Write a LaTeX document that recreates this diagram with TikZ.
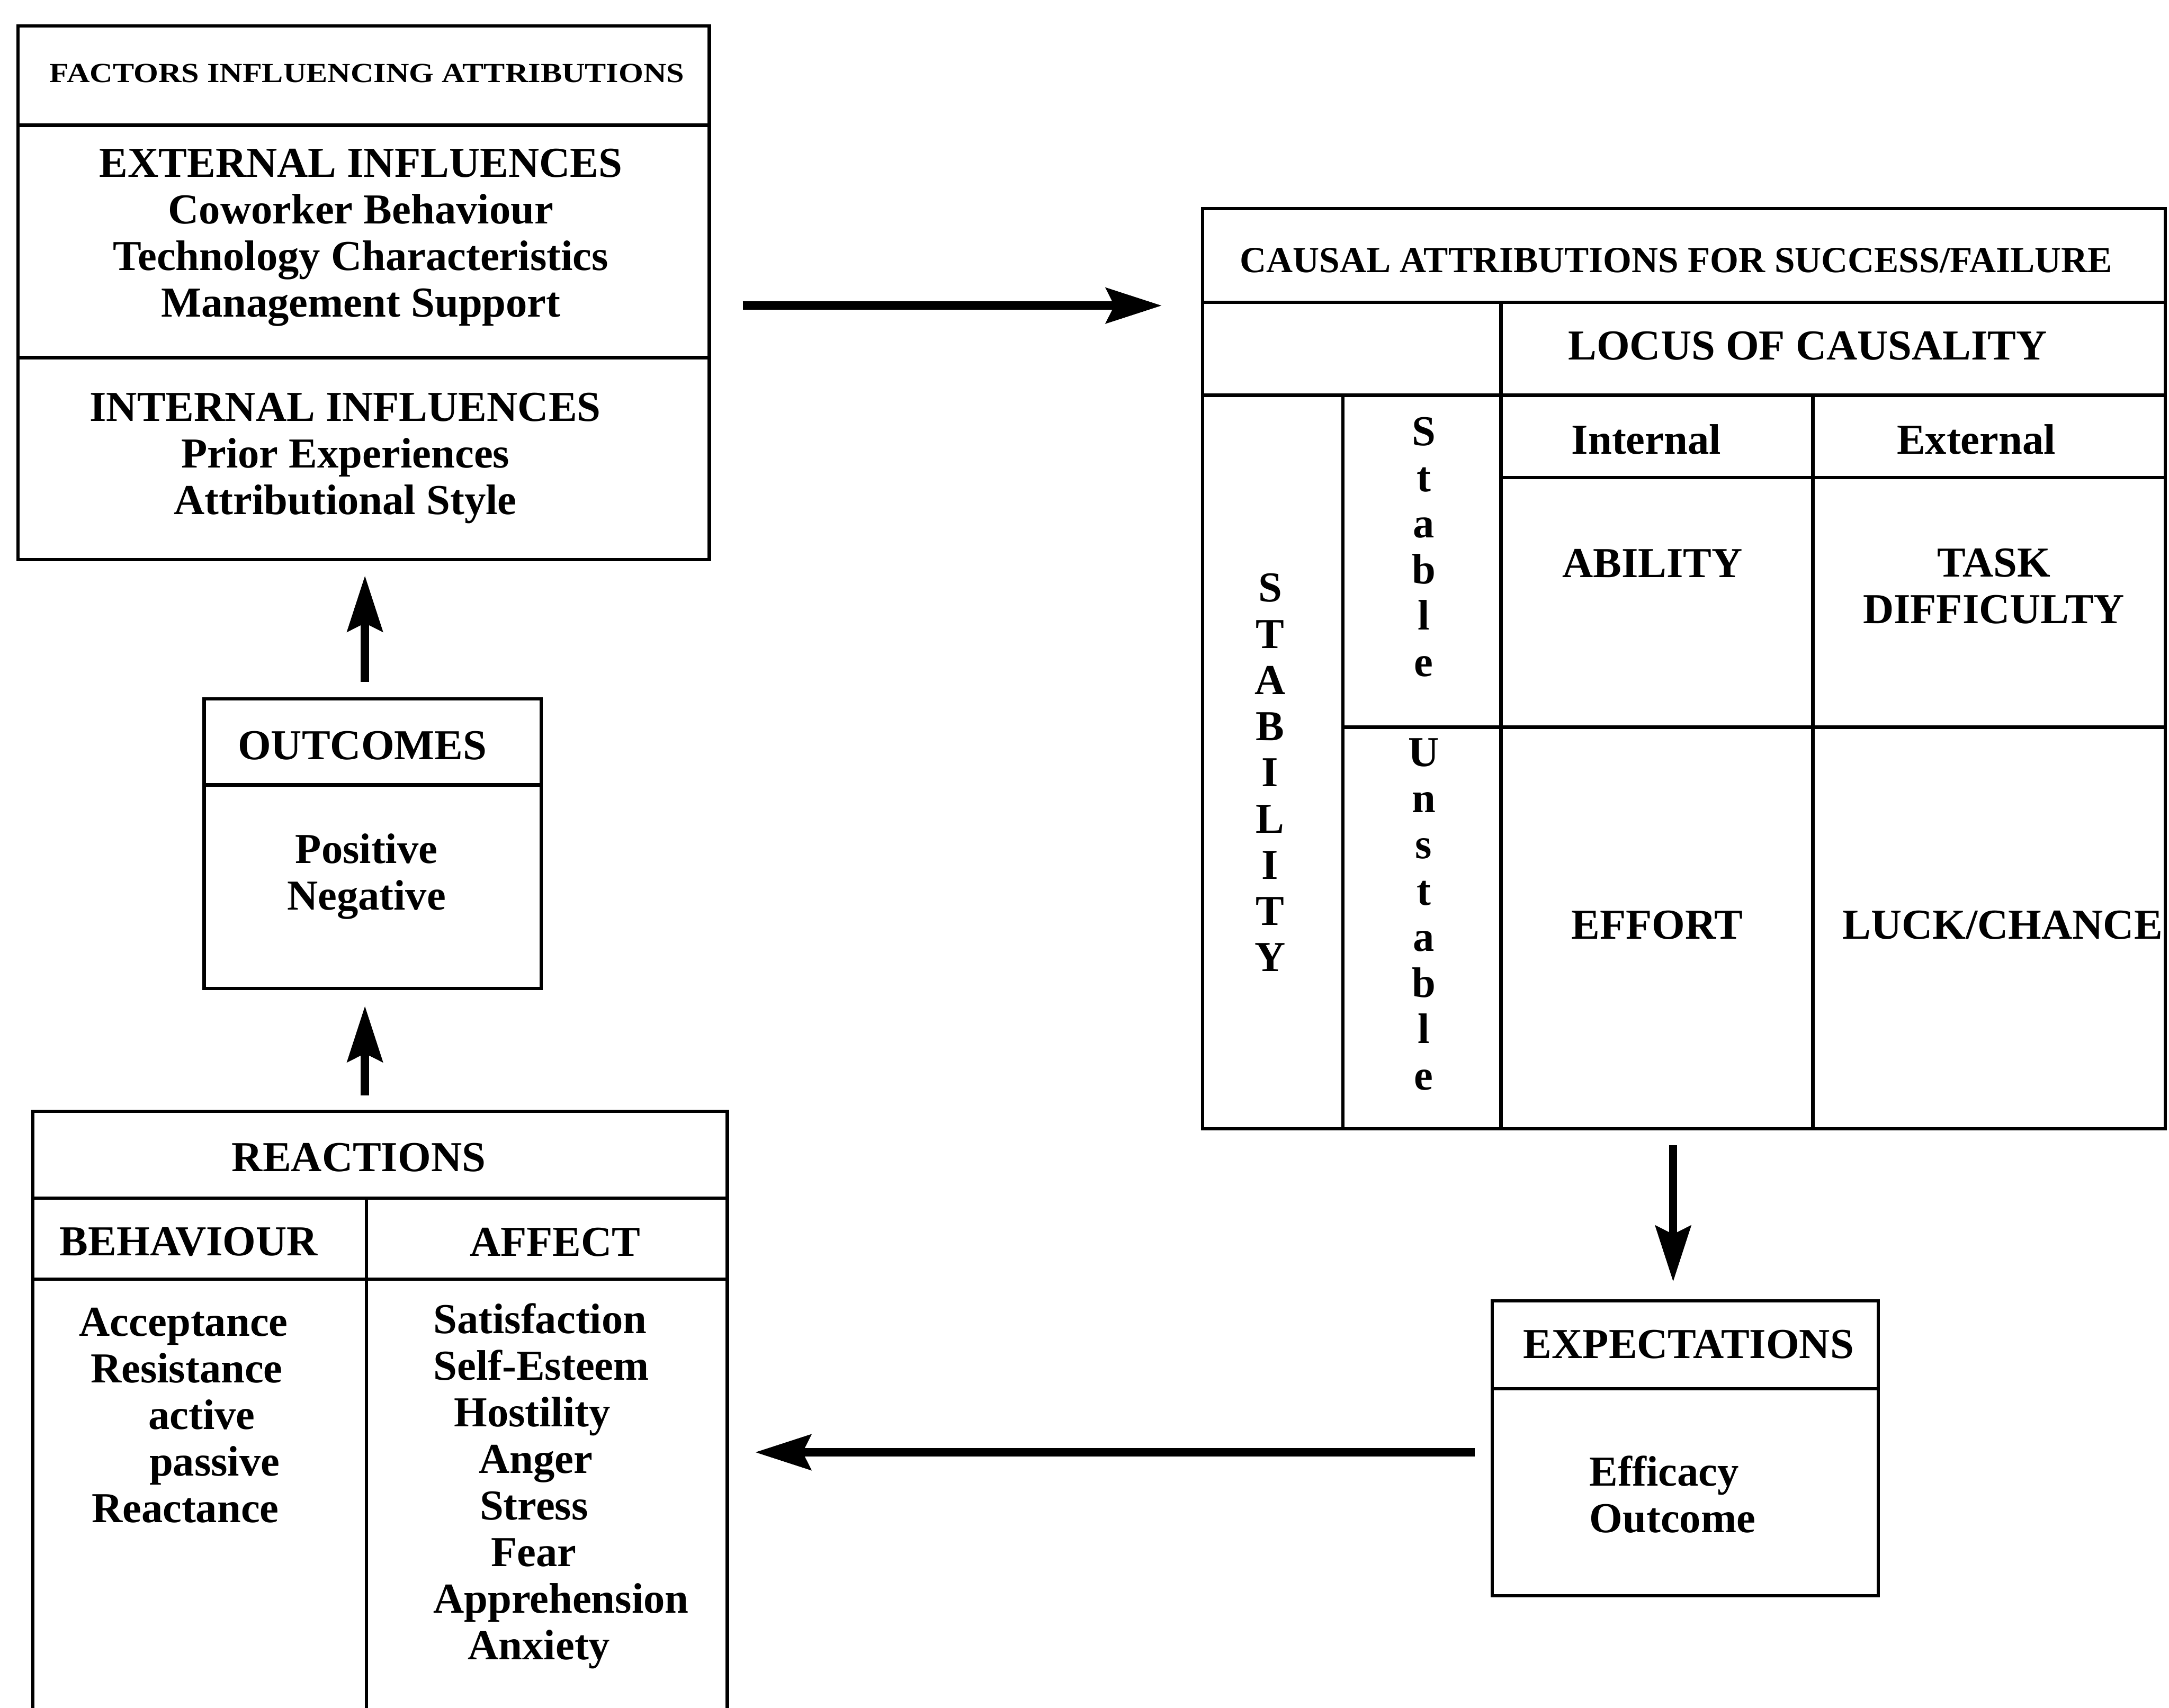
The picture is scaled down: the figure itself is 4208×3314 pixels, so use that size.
\documentclass[tikz,border=0pt]{standalone}
\usepackage{fontspec}
\setmainfont{Liberation Serif}
\usepackage{graphicx}
\usetikzlibrary{arrows.meta}
\tikzset{
  box/.style={draw, line width=1.6pt, inner sep=0pt, outer sep=0pt, rectangle},
  area/.style={inner sep=0pt, outer sep=0pt, rectangle},
  ln/.style={line width=1.6pt},
  arr/.style={line width=4pt, -{Stealth[length=27pt,width=17pt,inset=4pt]}},
  txt/.style={inner sep=0pt, align=center, font=\fontsize{20.7}{22.6}\selectfont\bfseries},
  vtxt/.style={inner sep=0pt, align=center, font=\fontsize{20.7}{22.4}\selectfont\bfseries},
}
\begin{document}
\begin{tikzpicture}[x=0.25pt, y=-0.25pt]
\fill[white] (0,0) rectangle (4208,3314);
\useasboundingbox (0,0) rectangle (4208,3314);

% ---------- boxes ----------
\node[box, minimum width=335.25pt, minimum height=259pt] (factors) at (705.5,568) {};
\node[box, minimum width=163.5pt, minimum height=140.5pt] (outcomes) at (723,1637) {};
\node[area, minimum width=336.75pt, minimum height=293.5pt] (reactions) at (737.5,2743) {};
\node[box, minimum width=467pt, minimum height=446.25pt] (causal) at (3267,1297.5) {};
\node[box, minimum width=187.25pt, minimum height=143pt] (expect) at (3269.5,2810) {};

% factors dividers
\draw[ln] (factors.west |- 0,243) -- (factors.east |- 0,243);
\draw[ln] (factors.west |- 0,694) -- (factors.east |- 0,694);
% outcomes divider
\draw[ln] (outcomes.west |- 0,1523) -- (outcomes.east |- 0,1523);
% reactions frame (open at the bottom edge)
\draw[ln] (reactions.south west) -- (reactions.north west) -- (reactions.north east) -- (reactions.south east);
\draw[ln] (reactions.west |- 0,2325) -- (reactions.east |- 0,2325);
\draw[ln] (reactions.west |- 0,2482) -- (reactions.east |- 0,2482);
\draw[ln] (711,2325) -- (711,0 |- reactions.south);
% causal grid
\draw[ln] (causal.west |- 0,587) -- (causal.east |- 0,587);
\draw[ln] (causal.west |- 0,767) -- (causal.east |- 0,767);
\draw[ln] (2912,587) -- (2912,0 |- causal.south);
\draw[ln] (2605,767) -- (2605,0 |- causal.south);
\draw[ln] (3517,767) -- (3517,0 |- causal.south);
\draw[ln] (2912,927) -- (causal.east |- 0,927);
\draw[ln] (2605,1411) -- (causal.east |- 0,1411);
% expectations divider
\draw[ln] (expect.west |- 0,2695) -- (expect.east |- 0,2695);

% ---------- texts ----------
\node[txt, font=\fontsize{13.4}{15}\selectfont\bfseries] (fhead) at (712,142)
  {\scalebox{1.155}[1]{FACTORS INFLUENCING ATTRIBUTIONS}};
\node[txt] (ext) at (700,461)
  {EXTERNAL INFLUENCES\\Coworker Behaviour\\Technology Characteristics\\Management Support};
\node[txt] (int) at (670,889)
  {INTERNAL INFLUENCES\\Prior Experiences\\Attributional Style};

\node[txt] (ohead) at (703,1447) {OUTCOMES};
\node[txt] (olist) at (711,1701) {Positive\\Negative};

\node[txt] (rhead) at (696,2246) {REACTIONS};
\node[txt] (bhead) at (366,2410) {BEHAVIOUR};
\node[txt] (ahead) at (1077,2410) {AFFECT};
\node[txt, align=left, anchor=west] (blist) at (153,2746)
  {Acceptance\\\hspace*{5.5pt}Resistance\\\hspace*{33.5pt}active\\\hspace*{34pt}passive\\\hspace*{6pt}Reactance};
\node[txt, align=left, anchor=west] (alist) at (840,2884)
  {Satisfaction\\Self-Esteem\\\hspace*{10pt}Hostility\\\hspace*{22pt}Anger\\\hspace*{22.5pt}Stress\\\hspace*{28pt}Fear\\Apprehension\\\hspace*{16.75pt}Anxiety};

\node[txt, font=\fontsize{17.8}{20}\selectfont\bfseries] (chead) at (3252,505)
  {CAUSAL ATTRIBUTIONS FOR SUCCESS/FAILURE};
\node[txt] (locus) at (3507,671) {LOCUS OF CAUSALITY};
\node[txt] (inthd) at (3194,853) {Internal};
\node[txt] (exthd) at (3834,853) {External};
\node[txt] (ability) at (3206,1093) {ABILITY};
\node[txt] (task) at (3868,1137) {TASK\\DIFFICULTY};
\node[txt] (effort) at (3215,1795) {EFFORT};
\node[txt] (luck) at (3885,1795) {LUCK/CHANCE};
\node[vtxt] (stability) at (2464,1499) {S\\T\\A\\B\\I\\L\\I\\T\\Y};
\node[vtxt] (stable) at (2762,1061) {S\\t\\a\\b\\l\\e};
\node[vtxt] (unstable) at (2762,1774) {U\\n\\s\\t\\a\\b\\l\\e};

\node[txt] (ehead) at (3276,2609) {EXPECTATIONS};
\node[txt, align=left, anchor=west] (elist) at (3083,2900) {Efficacy\\Outcome};

% ---------- connectors ----------
\draw[arr, shorten <=16.25pt, shorten >=19.75pt] (factors.east |- 0,593) -- (causal.west |- 0,593);
\draw[arr, shorten <=8.25pt, shorten >=7.75pt] (708,0 |- outcomes.north) -- (708,0 |- factors.south);
\draw[arr, shorten <=7.5pt, shorten >=8.5pt] (708,0 |- reactions.north) -- (708,0 |- outcomes.south);
\draw[arr, shorten <=8pt, shorten >=9.25pt] (3246,0 |- causal.south) -- (3246,0 |- expect.north);
\draw[arr, shorten <=8.5pt, shorten >=13.5pt] (expect.west |- 0,2818) -- (reactions.east |- 0,2818);
\end{tikzpicture}
\end{document}
